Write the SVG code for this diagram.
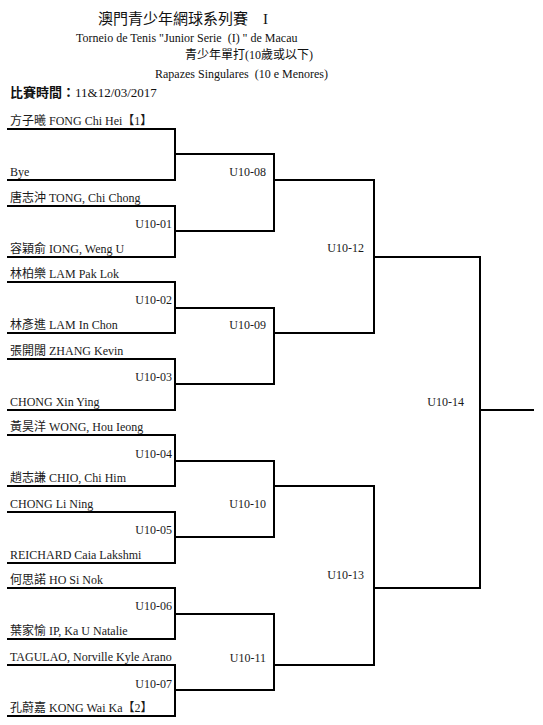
<svg xmlns="http://www.w3.org/2000/svg" width="543" height="725" viewBox="0 0 543 725">
<style>
  .t { font-family: "Liberation Serif", "Noto Sans CJK TC", serif; font-size: 12px; fill: #1a1a1a; }
  .h { font-family: "Liberation Serif", "Noto Sans CJK TC", serif; fill: #111; }
  .m { font-family: "Liberation Serif", "Noto Sans CJK TC", serif; font-size: 12px; fill: #1a1a1a; text-anchor: end; }
  .ln { fill: none; stroke: #000; stroke-width: 2; stroke-linecap: square; }
</style>
<rect width="543" height="725" fill="#fff"/>
<g id="header">
  <text class="h" x="98" y="24" font-size="15" xml:space="preserve">澳門青少年網球系列賽　I</text>
  <text class="h" x="76" y="42" font-size="12" xml:space="preserve">Torneio de Tenis "Junior Serie  (I) " de Macau</text>
  <text class="h" x="185" y="59" font-size="12">青少年單打(10歲或以下)</text>
  <text class="h" x="155" y="78" font-size="12" xml:space="preserve">Rapazes Singulares  (10 e Menores)</text>
  <text class="h" x="10" y="97" font-size="13"><tspan font-weight="bold">比賽時間：</tspan>11&amp;12/03/2017</text>
</g>
<g id="connectors">
  <!-- round 1 brackets -->
  <path class="ln" d="M8,129 H175 V180 H8 M175,154 H274"/>
  <path class="ln" d="M8,206 H175 V257 H8 M175,231 H274"/>
  <path class="ln" d="M8,282 H175 V333 H8 M175,308 H274"/>
  <path class="ln" d="M8,359 H175 V410 H8 M175,384 H274"/>
  <path class="ln" d="M8,435 H175 V486 H8 M175,461 H274"/>
  <path class="ln" d="M8,512 H175 V563 H8 M175,537 H274"/>
  <path class="ln" d="M8,588 H175 V639 H8 M175,614 H274"/>
  <path class="ln" d="M8,665 H175 V716 H8 M175,690 H274"/>
  <!-- round 2 -->
  <path class="ln" d="M274,154 V231 M274,180 H374"/>
  <path class="ln" d="M274,308 V384 M274,333 H374"/>
  <path class="ln" d="M274,461 V537 M274,486 H374"/>
  <path class="ln" d="M274,614 V690 M274,665 H374"/>
  <!-- round 3 -->
  <path class="ln" d="M374,180 V333 M374,257 H480"/>
  <path class="ln" d="M374,486 V665 M374,588 H480"/>
  <!-- final -->
  <path class="ln" d="M480,257 V588 M480,410 H533"/>
</g>
<g id="p01"><text class="t" x="10" y="125">方子曦 FONG Chi Hei【1】</text></g>
<g id="p02"><text class="t" x="10" y="176">Bye</text></g>
<g id="p03"><text class="t" x="10" y="202">唐志沖 TONG, Chi Chong</text></g>
<g id="p04"><text class="t" x="10" y="253">容穎俞 IONG, Weng U</text></g>
<g id="p05"><text class="t" x="10" y="278">林柏樂 LAM Pak Lok</text></g>
<g id="p06"><text class="t" x="10" y="329">林彥進 LAM In Chon</text></g>
<g id="p07"><text class="t" x="10" y="355">張開闊 ZHANG Kevin</text></g>
<g id="p08"><text class="t" x="10" y="406">CHONG Xin Ying</text></g>
<g id="p09"><text class="t" x="10" y="431">黃昊洋 WONG, Hou Ieong</text></g>
<g id="p10"><text class="t" x="10" y="482">趙志謙 CHIO, Chi Him</text></g>
<g id="p11"><text class="t" x="10" y="508">CHONG Li Ning</text></g>
<g id="p12"><text class="t" x="10" y="559">REICHARD Caia Lakshmi</text></g>
<g id="p13"><text class="t" x="10" y="584">何思諾 HO Si Nok</text></g>
<g id="p14"><text class="t" x="10" y="635">葉家愉 IP, Ka U Natalie</text></g>
<g id="p15"><text class="t" x="10" y="661">TAGULAO, Norville Kyle Arano</text></g>
<g id="p16"><text class="t" x="10" y="712">孔蔚嘉 KONG Wai Ka【2】</text></g>
<g id="U10-01"><text class="m" x="172" y="228">U10-01</text></g>
<g id="U10-02"><text class="m" x="172" y="304">U10-02</text></g>
<g id="U10-03"><text class="m" x="172" y="381">U10-03</text></g>
<g id="U10-04"><text class="m" x="172" y="458">U10-04</text></g>
<g id="U10-05"><text class="m" x="172" y="534">U10-05</text></g>
<g id="U10-06"><text class="m" x="172" y="610">U10-06</text></g>
<g id="U10-07"><text class="m" x="172" y="688">U10-07</text></g>
<g id="U10-08"><text class="m" x="266" y="176">U10-08</text></g>
<g id="U10-09"><text class="m" x="266" y="329">U10-09</text></g>
<g id="U10-10"><text class="m" x="266" y="508">U10-10</text></g>
<g id="U10-11"><text class="m" x="266" y="662">U10-11</text></g>
<g id="U10-12"><text class="m" x="364" y="252">U10-12</text></g>
<g id="U10-13"><text class="m" x="364" y="579">U10-13</text></g>
<g id="U10-14"><text class="m" x="464" y="406">U10-14</text></g>
</svg>
